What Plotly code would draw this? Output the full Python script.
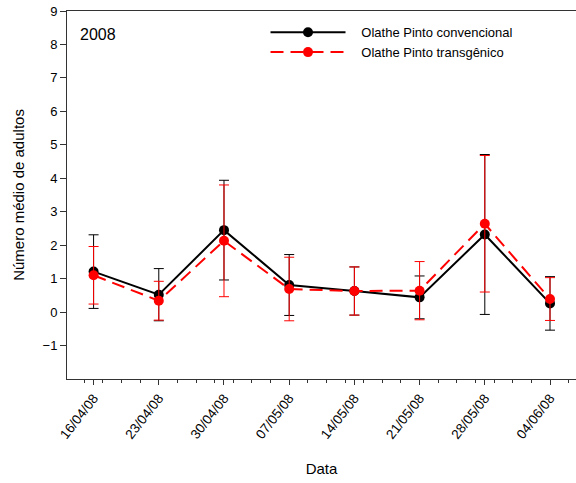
import plotly.graph_objects as go

# Sample dates and labels
datas = ['2008-04-16', '2008-04-23', '2008-04-30', '2008-05-07',
         '2008-05-14', '2008-05-21', '2008-05-28', '2008-06-04']
rotulos = ['16/04/08', '23/04/08', '30/04/08', '07/05/08',
           '14/05/08', '21/05/08', '28/05/08', '04/06/08']

# Mean number of adults and error bars
convencional = [1.21, 0.52, 2.45, 0.81, 0.63, 0.44, 2.32, 0.26]
convencional_erro = [1.10, 0.78, 1.49, 0.91, 0.72, 0.64, 2.39, 0.80]
transgenico = [1.10, 0.34, 2.13, 0.69, 0.63, 0.64, 2.64, 0.39]
transgenico_erro = [0.86, 0.58, 1.67, 0.95, 0.72, 0.87, 2.04, 0.64]

fonte = 'Liberation Sans, Arial, sans-serif'
pad = '\u00a0' * 3  # gap between legend symbol and text

fig = go.Figure()

fig.add_trace(go.Scatter(
    x=datas, y=convencional, name=pad + 'Olathe Pinto convencional',
    mode='lines+markers',
    line=dict(color='black', width=2),
    marker=dict(color='black', size=10),
    error_y=dict(type='data', array=convencional_erro, color='black',
                 thickness=1, width=5),
))

fig.add_trace(go.Scatter(
    x=datas, y=transgenico, name=pad + 'Olathe Pinto transgênico',
    mode='lines+markers',
    line=dict(color='#ff0000', width=2, dash='13px,7px'),
    marker=dict(color='#ff0000', size=10),
    error_y=dict(type='data', array=transgenico_erro, color='#ff0000',
                 thickness=1, width=5),
))

# "2008" label in the upper left corner of the plot
fig.add_annotation(
    text='2008', x=0.022, y=0.935, xref='paper', yref='paper',
    xanchor='left', yanchor='middle',
    showarrow=False, font=dict(size=16, color='black'),
)

fig.update_layout(
    width=576, height=483,
    margin=dict(l=67, r=0, t=11, b=104),
    paper_bgcolor='white', plot_bgcolor='white',
    font=dict(family=fonte, size=13, color='black'),
    showlegend=True,
    legend=dict(
        x=0.39, y=0.983, xanchor='left', yanchor='top',
        bgcolor='rgba(0,0,0,0)', font=dict(size=13),
        itemwidth=75, tracegroupgap=0,
    ),
)

fig.update_xaxes(
    type='date', automargin=False,
    range=['2008-04-13 03:30', '2008-06-06 19:00'],
    tickvals=datas, ticktext=rotulos, tickangle=-52,
    tickfont=dict(size=13.5),
    ticks='outside', ticklen=5, tickcolor='#333333',
    showline=True, linecolor='#333333', linewidth=1, mirror=True,
    showgrid=False, zeroline=False,
    minor=dict(dtick=2 * 86400000, tick0='2008-04-15', ticks='outside',
               ticklen=3, tickcolor='#333333', showgrid=False),
    title=dict(text='Data', font=dict(size=15), standoff=22),
)

fig.update_yaxes(
    automargin=False,
    range=[-2, 9], tickvals=list(range(-1, 10)),
    ticks='outside', ticklen=6, tickcolor='#333333',
    showline=True, linecolor='#333333', linewidth=1,
    showgrid=False, zeroline=False,
    title=dict(text='Número médio de adultos', font=dict(size=15), standoff=14),
)

# drop the default 8px body margin so the figure sits at the window corner
fig.write_html('out.html', config={'displayModeBar': False},
               post_script="document.body.style.margin = '0';")
